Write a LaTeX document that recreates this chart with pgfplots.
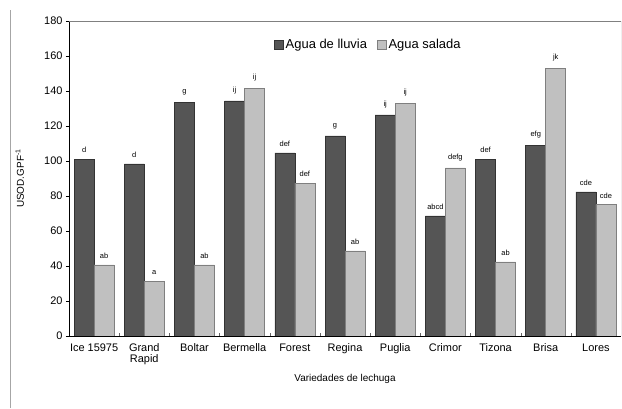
\documentclass[border=0pt]{standalone}
\usepackage{pgfplots}
\pgfplotsset{compat=1.18}
\usepackage{fontspec}
\setmainfont{Liberation Sans}
\definecolor{darkbar}{HTML}{555555}
\definecolor{lightbar}{HTML}{C0C0C0}
\definecolor{lightedge}{HTML}{7F7F7F}
\definecolor{framec}{HTML}{808080}
\begin{document}
\begin{tikzpicture}
\path (0bp,0bp) rectangle (622bp,408bp);
\draw[gray!70, line width=0.8bp] (10bp,0bp) -- (10bp,398bp);
\begin{axis}[
  at={(69bp,72bp)}, anchor=south west,
  scale only axis, width=552bp, height=315bp,
  ymin=0, ymax=180, ytick distance=20,
  xmin=-0.5, xmax=10.5,
  xtick={0,...,10},
  xticklabels={Ice 15975,{Grand\\Rapid},Boltar,Bermella,Forest,Regina,Puglia,Crimor,Tizona,Brisa,Lores},
  xticklabel style={align=center, font=\fontsize{11}{11.5}\selectfont, yshift=-1bp},
  yticklabel style={font=\fontsize{11}{12}\selectfont},
  minor xtick={0.5,1.5,...,9.5},
  major x tick style={draw=none},
  minor tick length=3bp,
  minor x tick style={black!60, yshift=3bp},
  y tick style={black, line width=0.6bp},
  major tick length=3bp,
  ytick pos=left, xtick pos=bottom,
  tick align=outside,
  axis x line*=bottom, axis y line*=left,
  axis line style={black, line width=0.6bp},
  /pgf/number format/assume math mode=true,
  ybar=0pt, bar width=20bp,
  nodes near coords, point meta=explicit symbolic,
  every node near coord/.append style={font=\fontsize{7.5}{8}\selectfont, yshift=3bp},
  ylabel={USOD.GPF\textsuperscript{-1}},
  ylabel style={font=\fontsize{10}{11}\selectfont, at={(axis description cs:-0.075,0.5)}},
  xlabel={Variedades de lechuga},
  xlabel style={font=\fontsize{10}{11}\selectfont, yshift=-2bp},
  legend style={draw=none, fill=none, at={(0.366,0.955)}, anchor=north west,
    legend columns=2, font=\fontsize{13}{14}\selectfont,
    /tikz/every even column/.append style={column sep=8bp}},
  legend image code/.code={\draw[#1, line width=0.5bp] (0bp,-4.5bp) rectangle (9bp,4.5bp);},
  legend cell align=left,
]
\draw[framec, line width=0.6bp] (rel axis cs:0,1) -- (rel axis cs:1,1) -- (rel axis cs:1,0);
\addplot[fill=darkbar, draw=black!80, line width=0.6bp] coordinates {
(0,101.0)[d] (1,98.3)[d] (2,133.7)[g] (3,134.3)[ij] (4,104.6)[def] (5,114.3)[g]
(6,126.3)[ij] (7,68.6)[abcd] (8,101.1)[def] (9,109.1)[efg] (10,82.3)[cde]};
\addplot[fill=lightbar, draw=lightedge, line width=0.6bp] coordinates {
(0,40.6)[ab] (1,31.4)[a] (2,40.6)[ab] (3,141.7)[ij] (4,87.4)[def] (5,48.6)[ab]
(6,133.1)[ij] (7,96.0)[defg] (8,42.3)[ab] (9,153.1)[jk] (10,75.0)[cde]};
\legend{Agua de lluvia, Agua salada}
\end{axis}
\end{tikzpicture}
\end{document}
